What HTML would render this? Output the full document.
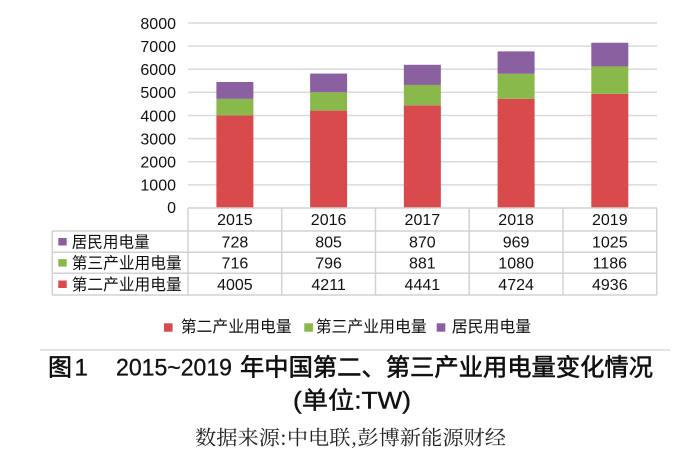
<!DOCTYPE html>
<html><head><meta charset="utf-8">
<style>
html,body{margin:0;padding:0;background:#fff;}
body{width:698px;height:457px;overflow:hidden;}
svg{display:block;}
.n{font-family:"Liberation Sans","Noto Sans CJK SC",sans-serif;font-size:16px;fill:#111;}
.c{font-family:"Liberation Sans","Noto Sans CJK SC",sans-serif;font-size:16px;fill:#111;}
</style></head>
<body>
<svg width="698" height="457" viewBox="0 0 698 457" xmlns="http://www.w3.org/2000/svg">
<rect width="698" height="457" fill="#fff"/>
<!-- gridlines -->
<g stroke="#d9d9d9" stroke-width="1.5">
<line x1="188" y1="23" x2="657" y2="23"/>
<line x1="188" y1="46.1" x2="657" y2="46.1"/>
<line x1="188" y1="69.25" x2="657" y2="69.25"/>
<line x1="188" y1="92.4" x2="657" y2="92.4"/>
<line x1="188" y1="115.5" x2="657" y2="115.5"/>
<line x1="188" y1="138.6" x2="657" y2="138.6"/>
<line x1="188" y1="161.75" x2="657" y2="161.75"/>
<line x1="188" y1="184.9" x2="657" y2="184.9"/>
</g>
<!-- y tick labels -->
<g class="n" text-anchor="end">
<text x="176" y="28.8">8000</text>
<text x="176" y="51.9">7000</text>
<text x="176" y="75">6000</text>
<text x="176" y="98.2">5000</text>
<text x="176" y="121.3">4000</text>
<text x="176" y="144.4">3000</text>
<text x="176" y="167.5">2000</text>
<text x="176" y="190.7">1000</text>
<text x="176" y="213.2">0</text>
</g>
<!-- bars -->
<g>
<rect x="216.4" y="115.38" width="37" height="92.62" fill="#d84a4b"/>
<rect x="216.4" y="98.82" width="37" height="16.56" fill="#88b94a"/>
<rect x="216.4" y="81.99" width="37" height="16.84" fill="#8a60a0"/>

<rect x="310.1" y="110.62" width="37" height="97.38" fill="#d84a4b"/>
<rect x="310.1" y="92.21" width="37" height="18.41" fill="#88b94a"/>
<rect x="310.1" y="73.6" width="37" height="18.62" fill="#8a60a0"/>

<rect x="403.85" y="105.3" width="37" height="102.7" fill="#d84a4b"/>
<rect x="403.85" y="84.93" width="37" height="20.37" fill="#88b94a"/>
<rect x="403.85" y="64.81" width="37" height="20.12" fill="#8a60a0"/>

<rect x="497.6" y="98.76" width="37" height="109.24" fill="#d84a4b"/>
<rect x="497.6" y="73.78" width="37" height="24.98" fill="#88b94a"/>
<rect x="497.6" y="51.37" width="37" height="22.41" fill="#8a60a0"/>

<rect x="591.3" y="93.85" width="37" height="114.15" fill="#d84a4b"/>
<rect x="591.3" y="66.43" width="37" height="27.43" fill="#88b94a"/>
<rect x="591.3" y="42.73" width="37" height="23.7" fill="#8a60a0"/>
</g>
<!-- table -->
<g stroke="#d2d2d2" stroke-width="1.5" fill="none">
<line x1="188" y1="208" x2="657" y2="208"/>
<line x1="52.3" y1="231" x2="657" y2="231"/>
<line x1="52.3" y1="252.3" x2="657" y2="252.3"/>
<line x1="52.3" y1="273.3" x2="657" y2="273.3"/>
<line x1="52.3" y1="295" x2="657" y2="295"/>
<line x1="52.3" y1="231" x2="52.3" y2="295"/>
<line x1="188" y1="208" x2="188" y2="295"/>
<line x1="281.7" y1="208" x2="281.7" y2="295"/>
<line x1="375.5" y1="208" x2="375.5" y2="295"/>
<line x1="469.2" y1="208" x2="469.2" y2="295"/>
<line x1="563" y1="208" x2="563" y2="295"/>
<line x1="656.7" y1="208" x2="656.7" y2="295"/>
</g>
<g class="n" text-anchor="middle">
<text x="234.9" y="225.1">2015</text>
<text x="328.6" y="225.1">2016</text>
<text x="422.35" y="225.1">2017</text>
<text x="516.1" y="225.1">2018</text>
<text x="609.8" y="225.1">2019</text>

<text x="234.9" y="247.3">728</text>
<text x="328.6" y="247.3">805</text>
<text x="422.35" y="247.3">870</text>
<text x="516.1" y="247.3">969</text>
<text x="609.8" y="247.3">1025</text>

<text x="234.9" y="268.4">716</text>
<text x="328.6" y="268.4">796</text>
<text x="422.35" y="268.4">881</text>
<text x="516.1" y="268.4">1080</text>
<text x="609.8" y="268.4">1186</text>

<text x="234.9" y="289.8">4005</text>
<text x="328.6" y="289.8">4211</text>
<text x="422.35" y="289.8">4441</text>
<text x="516.1" y="289.8">4724</text>
<text x="609.8" y="289.8">4936</text>
</g>
<!-- table legend -->
<rect x="58.3" y="238" width="8.4" height="7.5" fill="#8a60a0"/>
<rect x="58.3" y="259.1" width="8.4" height="7.5" fill="#88b94a"/>
<rect x="58.3" y="280.5" width="8.4" height="7.5" fill="#d84a4b"/>
<g class="c">
<text x="71.7" y="247.3" textLength="78" lengthAdjust="spacingAndGlyphs">居民用电量</text>
<text x="71.7" y="268.4" textLength="110" lengthAdjust="spacingAndGlyphs">第三产业用电量</text>
<text x="71.7" y="289.8" textLength="110" lengthAdjust="spacingAndGlyphs">第二产业用电量</text>
</g>
<!-- bottom legend -->
<rect x="164" y="323.3" width="8.6" height="8.4" fill="#d84a4b"/>
<rect x="304.3" y="323.3" width="8.6" height="8.4" fill="#88b94a"/>
<rect x="436.7" y="323.3" width="8.6" height="8.4" fill="#8a60a0"/>
<g class="c">
<text x="180.7" y="332" textLength="111" lengthAdjust="spacingAndGlyphs">第二产业用电量</text>
<text x="315.7" y="332" textLength="111" lengthAdjust="spacingAndGlyphs">第三产业用电量</text>
<text x="451.7" y="332" textLength="79.5" lengthAdjust="spacingAndGlyphs">居民用电量</text>
</g>
<!-- separator -->
<line x1="40" y1="350" x2="670" y2="350" stroke="#dcdcdc" stroke-width="1.5"/>
<!-- caption -->
<g fill="#111" font-size="24">
<text x="48" y="375.5" font-family="'Noto Sans CJK SC',sans-serif" stroke="#111" stroke-width="0.6">图</text>
<text x="74.5" y="375.5" font-family="'Liberation Sans',sans-serif" stroke="#111" stroke-width="0.3">1</text>
<text x="116" y="375.5" font-family="'Liberation Sans',sans-serif" stroke="#111" stroke-width="0.3" textLength="116" lengthAdjust="spacingAndGlyphs">2015~2019</text>
<text x="240" y="375.5" font-family="'Noto Sans CJK SC',sans-serif" stroke="#111" stroke-width="0.6" textLength="413" lengthAdjust="spacingAndGlyphs">年中国第二、第三产业用电量变化情况</text>
<text x="293" y="408.5" font-family="'Liberation Sans','Noto Sans CJK SC',sans-serif" stroke="#111" stroke-width="0.4" textLength="118" lengthAdjust="spacingAndGlyphs">(单位:TW)</text>
</g>
<text x="195" y="444.5" fill="#222" font-size="20" font-family="'Noto Serif CJK SC','Noto Serif CJK JP','AR PL UMing CN','Liberation Serif',serif" textLength="311" lengthAdjust="spacingAndGlyphs">数据来源:中电联,彭博新能源财经</text>
</svg>
</body></html>
